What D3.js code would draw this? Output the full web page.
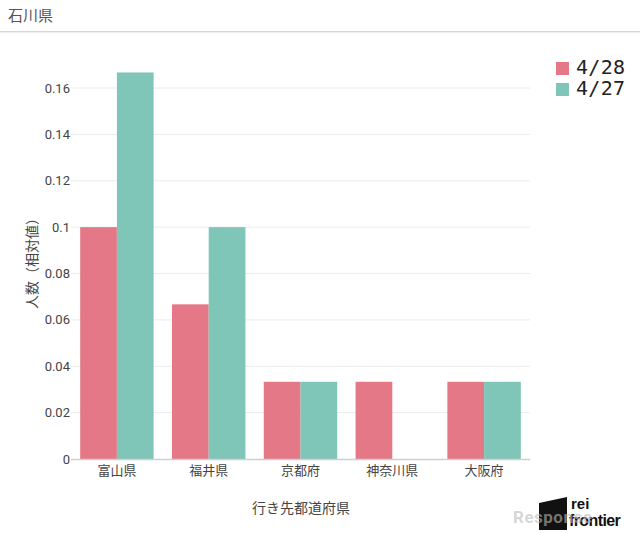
<!DOCTYPE html>
<html>
<head>
<meta charset="utf-8">
<script src="https://cdn.jsdelivr.net/npm/d3@7"></script>
<style>
  body { margin: 0; background: #fff; font-family: Roboto, "Noto Sans CJK JP", sans-serif; }
  #chart { width: 640px; height: 533px; }
</style>
</head>
<body>
<div id="chart"></div>
<script>
const categories = ["富山県", "福井県", "京都府", "神奈川県", "大阪府"];
const seriesNames = ["4/28", "4/27"];
const values428 = [0.1, 0.0667, 0.0333, 0.0333, 0.0333];
const values427 = [0.1667, 0.1, 0.0333, 0, 0.0333];
const yTicks = [0, 0.02, 0.04, 0.06, 0.08, 0.1, 0.12, 0.14, 0.16];
const colors = ["#e57886", "#7fc6b9"];

const width = 640, height = 533;
const margin = { left: 71, right: 110, top: 60, bottom: 74 };

const svg = d3.select("#chart").append("svg").attr("width", width).attr("height", height);

// title bar
svg.append("text").attr("x", 8).attr("y", 21)
  .attr("font-size", 15).attr("fill", "#555")
  .attr("font-family", "'Noto Sans CJK JP', sans-serif")
  .text("石川県");
svg.append("rect").attr("x", 0).attr("y", 31).attr("width", width).attr("height", 1).attr("fill", "#d8d8d8");
svg.append("rect").attr("x", 0).attr("y", 32).attr("width", width).attr("height", 1).attr("fill", "#eeeeee");

const x0 = d3.scaleBand().domain(categories)
  .range([margin.left, width - margin.right]).paddingInner(0.2).paddingOuter(0.1);
const x1 = d3.scaleBand().domain(seriesNames).range([0, x0.bandwidth()]);
const y = d3.scaleLinear().domain([0, 0.16]).range([459, 88]);

// grid
svg.append("g").selectAll("line").data(yTicks.slice(1)).join("line")
  .attr("x1", margin.left).attr("x2", width - margin.right)
  .attr("y1", d => y(d)).attr("y2", d => y(d))
  .attr("stroke", "#ececec").attr("stroke-width", 1);

// y tick labels
svg.append("g").selectAll("text").data(yTicks).join("text")
  .attr("x", margin.left - 1).attr("y", d => y(d) + 4.5)
  .attr("text-anchor", "end").attr("font-size", 13).attr("fill", "#444")
  .text(d => d3.format("~g")(d));

const data = categories.map((c, i) => ({ cat: c, vals: [values428[i], values427[i]] }));

const groups = svg.append("g").selectAll("g").data(data).join("g")
  .attr("transform", d => `translate(${x0(d.cat)},0)`);
groups.selectAll("rect").data(d => d.vals.map((v, j) => ({ v, s: seriesNames[j], j })))
  .join("rect")
  .attr("x", d => x1(d.s)).attr("width", x1.bandwidth())
  .attr("y", d => y(d.v)).attr("height", d => y(0) - y(d.v))
  .attr("fill", d => colors[d.j]);

// baseline
svg.append("line").attr("x1", margin.left).attr("x2", width - margin.right)
  .attr("y1", y(0) + 0.5).attr("y2", y(0) + 0.5)
  .attr("stroke", "#cfcfcf").attr("stroke-width", 1.5);

// category labels
svg.append("g").selectAll("text").data(categories).join("text")
  .attr("x", d => x0(d) + x0.bandwidth() / 2).attr("y", 475)
  .attr("text-anchor", "middle").attr("font-size", 13).attr("fill", "#444")
  .attr("font-family", "'Noto Sans CJK JP', sans-serif")
  .text(d => d);

// axis titles
svg.append("text").attr("x", 301).attr("y", 513)
  .attr("text-anchor", "middle").attr("font-size", 14).attr("fill", "#444")
  .attr("font-family", "'Noto Sans CJK JP', sans-serif")
  .text("行き先都道府県");
svg.append("text").attr("transform", "translate(37,260) rotate(-90)")
  .attr("text-anchor", "middle").attr("font-size", 14).attr("fill", "#444")
  .attr("font-family", "'Noto Sans CJK JP', sans-serif")
  .text("人数（相対値）");

// legend
const legend = svg.append("g").selectAll("g").data(seriesNames).join("g")
  .attr("transform", (d, i) => `translate(556,${62 + i * 21})`);
legend.append("rect").attr("width", 13).attr("height", 13).attr("fill", (d, i) => colors[i]);
legend.append("text").attr("x", 20).attr("y", 12)
  .attr("font-size", 20).attr("fill", "#222")
  .attr("font-family", "'DejaVu Sans Mono', monospace")
  .attr("letter-spacing", 0.3)
  .text(d => d);

// logo
const logo = svg.append("g");
logo.append("path").attr("d", "M539,503 L567,497 L567,530 L539,530 Z").attr("fill", "#111");
logo.append("text").attr("x", 571).attr("y", 509)
  .attr("font-size", 15).attr("font-weight", "bold").attr("fill", "#111")
  .attr("font-family", "'Liberation Sans', sans-serif").text("rei");
logo.append("text").attr("x", 569).attr("y", 526)
  .attr("font-size", 16).attr("font-weight", "bold").attr("fill", "#111")
  .attr("font-family", "'Liberation Sans', sans-serif").attr("letter-spacing", -0.6).text("frontier");
logo.append("text").attr("x", 513).attr("y", 523)
  .attr("font-size", 17).attr("fill", "#bbb").attr("fill-opacity", 0.6).attr("font-weight", "bold")
  .attr("font-family", "Roboto, sans-serif").attr("letter-spacing", 0.5)
  .text("Response");
</script>
</body>
</html>
